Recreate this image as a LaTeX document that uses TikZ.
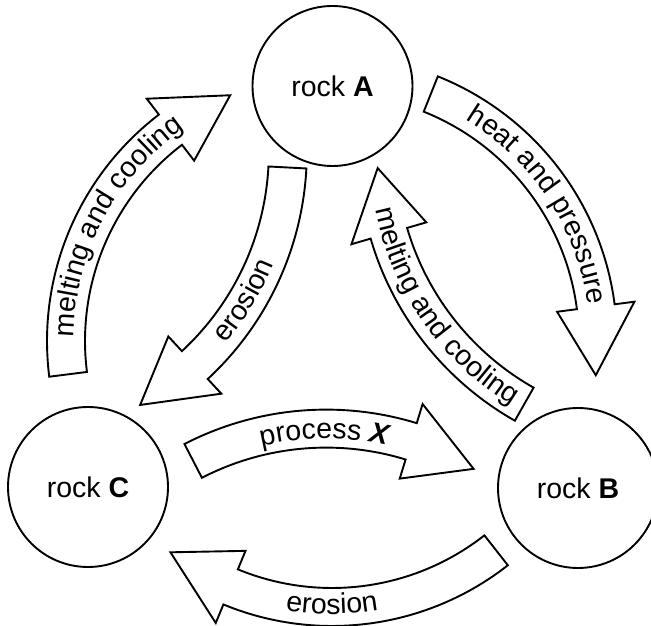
\documentclass[tikz,border=0pt]{standalone}
\usepackage{fontspec}
\setmainfont{Liberation Sans}
\usetikzlibrary{calc,decorations.text}
\newcommand{\lab}{\fontsize{28.5}{34}\selectfont}
% #1 centre, #2 centre-line radius, #3 tail angle, #4 head-base angle, #5 tip angle
\newcommand{\blockarrow}[5]{%
  \draw[blockarrow] ($(#1)+(#3:{#2+19})$) arc[start angle=#3, end angle=#4, radius={#2+19}]
    -- ($(#1)+(#4:{#2+39})$) -- ($(#1)+(#5:#2)$) -- ($(#1)+(#4:{#2-39})$)
    -- ($(#1)+(#4:{#2-19})$) arc[start angle=#4, end angle=#3, radius={#2-19}] -- cycle;}
% #1 centre, #2 radius, #3 start angle, #4 end angle, #5 text
\newcommand{\arclabel}[5]{%
  \path[decorate, decoration={text along path, text align=center, text={#5}}]
    ($(#1)+(#3:#2)$) arc[start angle=#3, end angle=#4, radius=#2];}
\tikzset{
  blockarrow/.style={draw=black, fill=white, line width=1.9pt, line join=miter},
  rock/.style={draw=black, line width=1.9pt, circle, minimum size=160pt, inner sep=0pt, font=\lab},
}
\begin{document}
\begin{tikzpicture}[x=1pt, y=1pt]
\useasboundingbox[fill=white] (0,0) rectangle (651,626);
% centres of the arcs
\coordinate (O) at (332,285);
\coordinate (cX) at (326.2,-92.6);
\coordinate (cE) at (-2.2,473.7);
\coordinate (cM) at (667.2,474.1);
% rocks
\node[rock] (A) at (332.5,540) {rock \textbf{A}};
\node[rock] (B) at (578,138) {rock \textbf{B}};
\node[rock] (C) at (88,139) {rock \textbf{C}};
% outer arrows
\blockarrow{O}{266}{187.2}{127.4}{112.5}
\blockarrow{O}{266}{68.2}{7.4}{-7.4}
\blockarrow{O}{266}{-51.9}{-112.4}{-127.4}
% inner arrows
\blockarrow{cX}{290}{117.3}{72.96}{59.45}
\blockarrow{cE}{290}{-3.0}{-47.2}{-60.6}
\blockarrow{cM}{290}{240.46}{196.3}{183.2}
% labels
\arclabel{O}{258.5}{192}{112}{|\lab|melting and cooling}
\arclabel{O}{258.5}{73.4}{-6.6}{|\lab|heat and pressure}
\arclabel{O}{273}{-130}{-50}{|\lab|erosion}
\arclabel{cX}{280}{130.4}{50.4}{|\lab|process |\lab\bfseries\itshape|X}
\arclabel{cE}{297.5}{-71}{9}{|\lab|erosion}
\arclabel{cM}{297.5}{174.8}{254.8}{|\lab|melting and cooling}
\end{tikzpicture}
\end{document}
